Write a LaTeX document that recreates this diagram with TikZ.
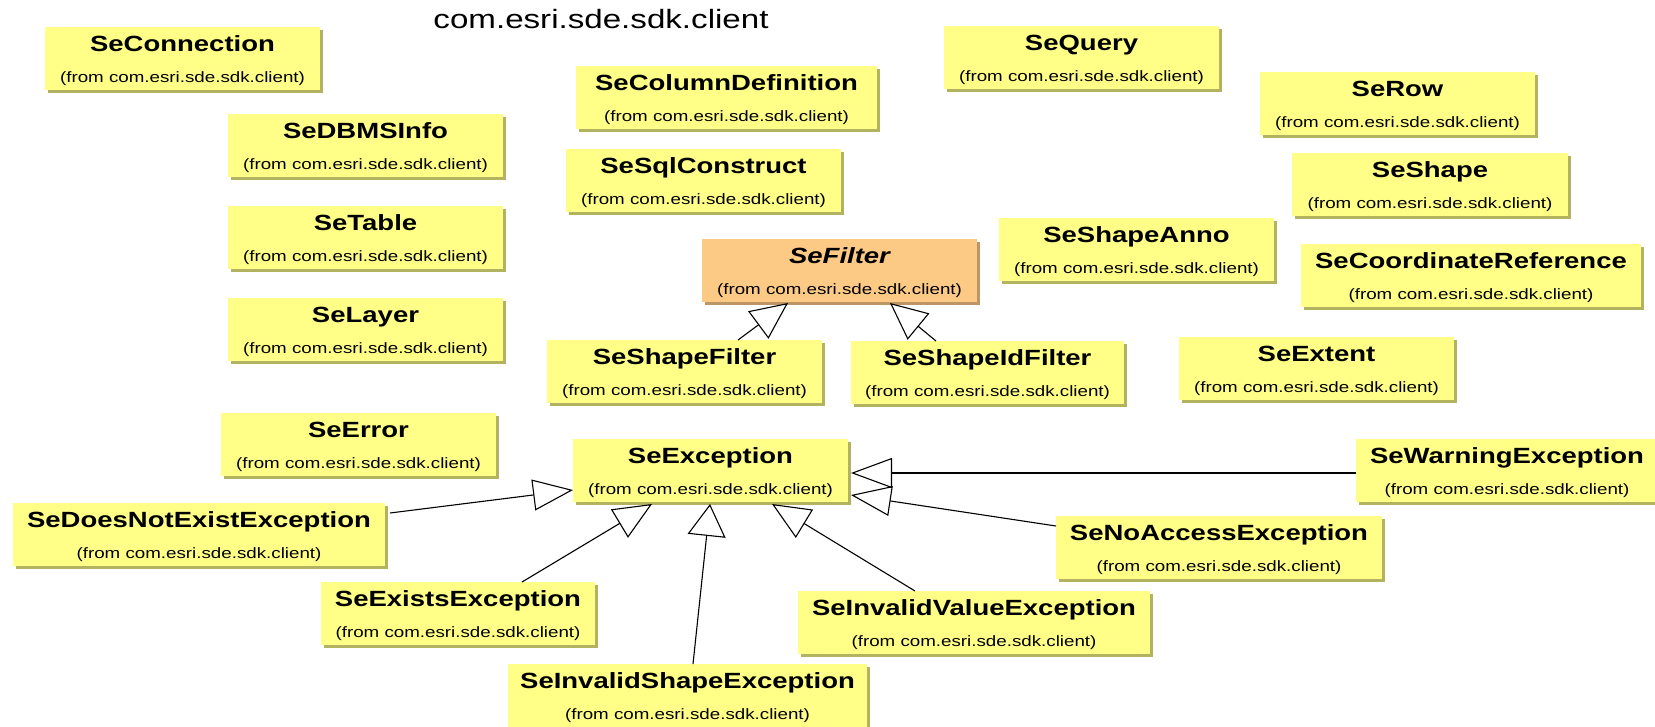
\documentclass[tikz,border=0pt]{standalone}
\usepackage{fontspec}
\usetikzlibrary{arrows.meta,calc,shadows}
\newfontfamily\arialw[FakeStretch=1.25]{Liberation Sans}

\definecolor{clsfill}{RGB}{255,255,136}
\definecolor{clsshadow}{RGB}{178,178,96}
\definecolor{absfill}{RGB}{253,202,134}
\definecolor{absshadow}{RGB}{188,150,100}

\tikzset{
  clsbox/.style={rectangle, fill=clsfill, inner sep=0pt, outer sep=0pt,
    minimum height=63pt,
    drop shadow={shadow xshift=3pt, shadow yshift=-3pt, opacity=1, fill=clsshadow}},
  absbox/.style={clsbox, fill=absfill,
    drop shadow={shadow xshift=3pt, shadow yshift=-3pt, opacity=1, fill=absshadow}},
  clsname/.style={inner sep=0pt, font=\arialw\bfseries\fontsize{22}{26}\selectfont},
  clsfrom/.style={inner sep=0pt, font=\arialw\fontsize{15}{18}\selectfont},
  pkgtitle/.style={inner sep=0pt, font=\arialw\fontsize{26.5}{30}\selectfont},
  inh/.style 2 args={draw=black, line width=1.1pt, line join=miter,
    -{Triangle[open, length=#1pt, width=#2pt, line width=1.1pt]}}
}

% \umlclass[style]{name}{x}{y}{width}{class name}
\newcommand{\umlclass}[6][clsbox]{%
  \node[#1, minimum width=#5pt, anchor=north west] (#2) at (#3,#4) {};
  \node[clsname, anchor=base] (#2-t) at ({#3+#5/2},{#4+24}) {#6};
  \node[clsfrom, anchor=base] (#2-f) at ({#3+#5/2},{#4+55}) {(from com.esri.sde.sdk.client)};
}

\begin{document}
\begin{tikzpicture}[x=1pt, y=-1pt]
  \useasboundingbox (0,0) rectangle (1655,726);
  \fill[white] (0,0) rectangle (1655,726);

  \node[pkgtitle, anchor=base] (pkg) at (601,28) {com.esri.sde.sdk.client};

  % independent classes
  \umlclass{conn}{45}{27}{275}{SeConnection}
  \umlclass{dbms}{228}{114}{275}{SeDBMSInfo}
  \umlclass{table}{228}{206}{275}{SeTable}
  \umlclass{layer}{228}{298}{275}{SeLayer}
  \umlclass{coldef}{576}{66}{301}{SeColumnDefinition}
  \umlclass{sqlc}{566}{149}{275}{SeSqlConstruct}
  \umlclass{query}{944}{26}{275}{SeQuery}
  \umlclass{row}{1260}{72}{275}{SeRow}
  \umlclass{shape}{1292}{153}{276}{SeShape}
  \umlclass{anno}{999}{218}{275}{SeShapeAnno}
  \umlclass{coordref}{1301}{244}{340}{SeCoordinateReference}
  \umlclass{extent}{1179}{337}{275}{SeExtent}
  \umlclass{error}{221}{413}{275}{SeError}

  % filter hierarchy
  \umlclass[absbox]{filter}{702}{239}{275}{\itshape SeFilter}
  \umlclass{sfilter}{547}{340}{275}{SeShapeFilter}
  \umlclass{sidfilter}{851}{341}{273}{SeShapeIdFilter}

  % exception hierarchy
  \umlclass{exc}{573}{439}{275}{SeException}
  \umlclass{warn}{1356}{439}{302}{SeWarningException}
  \umlclass{notexist}{13}{503}{372}{SeDoesNotExistException}
  \umlclass{noacc}{1056}{516}{326}{SeNoAccessException}
  \umlclass{exists}{321}{582}{274}{SeExistsException}
  \umlclass{ivalue}{798}{591}{352}{SeInvalidValueException}
  \umlclass{ishape}{508}{664}{359}{SeInvalidShapeException}

  % generalizations
  \draw[inh={37}{34}] ($(sfilter.north west)+(191,0)$) -- ($(filter.south west)+(86,1)$);
  \draw[inh={37}{34}] ($(sidfilter.north west)+(85,0)$) -- ($(filter.south west)+(188,1)$);

  \draw[inh={40}{31}] ($(notexist.north east)+(5,10)$) -- ($(exc.north west)+(0,51)$);
  \draw[inh={38}{33}] ($(exists.north west)+(201,0)$) -- ($(exc.south west)+(79,2)$);
  \draw[inh={32}{38}] ($(ishape.north west)+(185,0)$) -- ($(exc.south west)+(137,2)$);
  \draw[inh={38}{33}] ($(ivalue.north west)+(117,0)$) -- ($(exc.south west)+(199,2)$);
  \draw[inh={40}{30}] ($(noacc.north west)+(0,10)$) -- ($(exc.north east)+(3,56)$);
  \draw[inh={41}{30}] ($(warn.north west)+(0,34)$) -- ($(exc.north east)+(3,34)$);
\end{tikzpicture}
\end{document}
